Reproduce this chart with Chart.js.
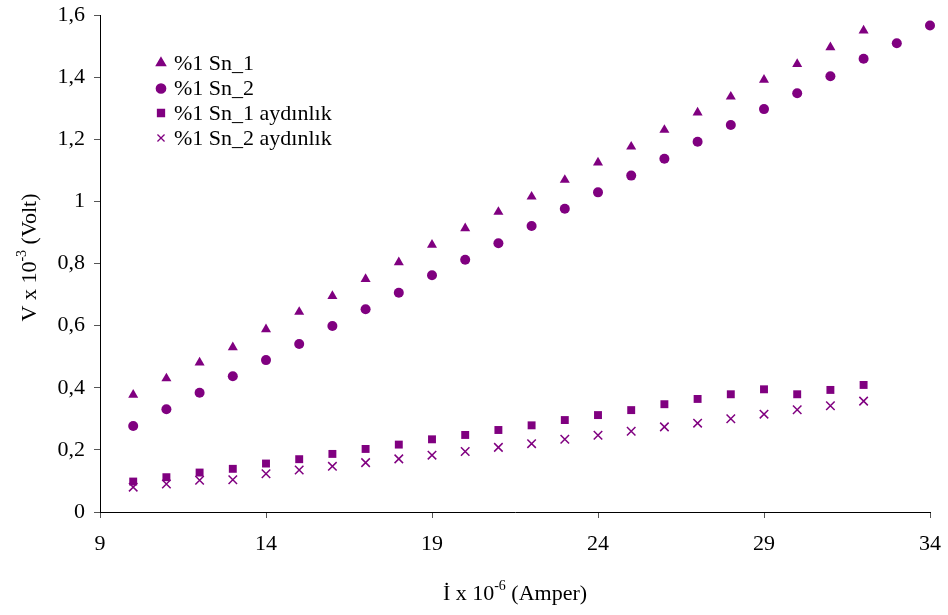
<!DOCTYPE html>
<html>
<head>
<meta charset="utf-8">
<script src="https://cdn.jsdelivr.net/npm/chart.js@4/dist/chart.umd.min.js"></script>
<style>
  html, body { margin: 0; padding: 0; background: #fff; }
  #wrap { width: 948px; height: 615px; }
</style>
</head>
<body>
<div id="wrap"><canvas id="c" width="948" height="615"></canvas></div>
<script>
// Current values (x 10^-6 A)
const current1 = [10,11,12,13,14,15,16,17,18,19,20,21,22,23,24,25,26,27,28,29,30,31,32];
const current2 = [10,11,12,13,14,15,16,17,18,19,20,21,22,23,24,25,26,27,28,29,30,31,32,33,34];

// Voltage values (x 10^-3 V)
const sn1 = [0.377,0.430,0.481,0.530,0.588,0.644,0.695,0.750,0.804,0.860,0.913,0.966,1.015,1.069,1.125,1.176,1.230,1.286,1.337,1.391,1.442,1.496,1.550];
const sn2 = [0.277,0.331,0.384,0.437,0.489,0.541,0.599,0.653,0.706,0.762,0.812,0.865,0.921,0.976,1.029,1.083,1.137,1.192,1.246,1.297,1.348,1.403,1.459,1.509,1.566];
const sn1Light = [0.098,0.112,0.127,0.139,0.156,0.170,0.187,0.203,0.217,0.234,0.248,0.264,0.279,0.296,0.312,0.328,0.347,0.364,0.379,0.395,0.379,0.393,0.409];
const sn2Light = [0.080,0.090,0.102,0.104,0.123,0.135,0.147,0.159,0.171,0.183,0.195,0.208,0.220,0.234,0.247,0.260,0.274,0.286,0.300,0.315,0.329,0.342,0.357];

const seriesNames = ['%1 Sn_1', '%1 Sn_2', '%1 Sn_1 aydınlık', '%1 Sn_2 aydınlık'];
const xTickValues = [9, 14, 19, 24, 29, 34];

const PURPLE = '#800080';
const FONT = '"Liberation Serif", "Times New Roman", serif';
const FONT_SIZE = 22;

function pairs(xs, ys) { return xs.map((x, i) => ({ x: x, y: ys[i] })); }

const datasets = [
  { label: seriesNames[0], data: pairs(current1, sn1), pointStyle: 'triangle', pointRadius: 5.8,
    backgroundColor: PURPLE, borderColor: PURPLE, borderWidth: 0 },
  { label: seriesNames[1], data: pairs(current2, sn2), pointStyle: 'circle', pointRadius: 5,
    backgroundColor: PURPLE, borderColor: PURPLE, borderWidth: 0 },
  { label: seriesNames[2], data: pairs(current1, sn1Light), pointStyle: 'rect', pointRadius: 5.6,
    backgroundColor: PURPLE, borderColor: PURPLE, borderWidth: 0 },
  { label: seriesNames[3], data: pairs(current1, sn2Light), pointStyle: 'crossRot', pointRadius: 6,
    backgroundColor: PURPLE, borderColor: PURPLE, borderWidth: 1.5 }
].map(d => Object.assign(d, { showLine: false, clip: false, pointHoverRadius: d.pointRadius }));

// Legend drawn inside the plot area, upper left
const insideLegend = {
  id: 'insideLegend',
  afterDatasetsDraw(chart) {
    const ctx = chart.ctx;
    const rows = [63, 88.5, 113, 138];
    const sizes = [5.2, 4.6, 4.8, 5];
    ctx.save();
    chart.data.datasets.forEach((ds, i) => {
      ctx.fillStyle = PURPLE;
      ctx.strokeStyle = PURPLE;
      ctx.lineWidth = ds.pointStyle === 'crossRot' ? 1.3 : 0;
      Chart.helpers.drawPoint(ctx, { pointStyle: ds.pointStyle, radius: sizes[i], rotation: 0, borderWidth: ctx.lineWidth }, 161, rows[i]);
      ctx.fillStyle = '#000';
      ctx.font = FONT_SIZE + 'px ' + FONT;
      ctx.textBaseline = 'middle';
      ctx.textAlign = 'left';
      ctx.fillText(ds.label, 174, rows[i] + 1);
    });
    ctx.restore();
  }
};

// Axis titles with superscript exponents
function drawSupText(ctx, parts, x, y, align) {
  const base = FONT_SIZE + 'px ' + FONT, sup = '14px ' + FONT;
  let total = 0;
  parts.forEach(p => { ctx.font = p.sup ? sup : base; total += ctx.measureText(p.t).width; });
  let cx = align === 'center' ? x - total / 2 : x;
  parts.forEach(p => {
    ctx.font = p.sup ? sup : base;
    ctx.fillText(p.t, cx, p.sup ? y - 8 : y);
    cx += ctx.measureText(p.t).width;
  });
}

const axisTitles = {
  id: 'axisTitles',
  afterDraw(chart) {
    const ctx = chart.ctx, a = chart.chartArea;
    ctx.save();
    ctx.fillStyle = '#000';
    ctx.textBaseline = 'middle';
    ctx.textAlign = 'left';
    drawSupText(ctx, [{ t: 'İ x 10' }, { t: '-6', sup: true }, { t: ' (Amper)' }], (a.left + a.right) / 2, 594, 'center');
    ctx.translate(30, (a.top + a.bottom) / 2 - 6);
    ctx.rotate(-Math.PI / 2);
    drawSupText(ctx, [{ t: 'V x 10' }, { t: '-3', sup: true }, { t: ' (Volt)' }], 0, 0, 'center');
    ctx.restore();
  }
};

new Chart(document.getElementById('c'), {
  type: 'scatter',
  data: { datasets: datasets },
  options: {
    responsive: false,
    animation: false,
    devicePixelRatio: 1,
    layout: { padding: { top: 15, right: 18, bottom: 0, left: 0 } },
    plugins: { legend: { display: false }, tooltip: { enabled: false } },
    scales: {
      x: {
        type: 'linear',
        min: 9, max: 34,
        afterBuildTicks(scale) { scale.ticks = xTickValues.map(v => ({ value: v })); },
        afterFit(scale) { scale.height = 103; scale.paddingLeft = 0; scale.paddingRight = 0; },
        grid: { drawOnChartArea: false, drawTicks: true, tickLength: 6, color: '#555' },
        border: { display: true, color: '#000', width: 1 },
        ticks: { color: '#000', font: { family: FONT, size: FONT_SIZE }, padding: 13, maxRotation: 0, autoSkip: false }
      },
      y: {
        type: 'linear',
        min: 0, max: 1.6,
        ticks: {
          stepSize: 0.2,
          color: '#000', font: { family: FONT, size: FONT_SIZE }, padding: 9,
          callback: v => String(Number(v.toFixed(1))).replace('.', ',')
        },
        afterFit(scale) { scale.width = 100; scale.paddingTop = 0; scale.paddingBottom = 0; },
        grid: { drawOnChartArea: false, drawTicks: true, tickLength: 6, color: '#555' },
        border: { display: true, color: '#000', width: 1 }
      }
    }
  },
  plugins: [insideLegend, axisTitles]
});
</script>
</body>
</html>
